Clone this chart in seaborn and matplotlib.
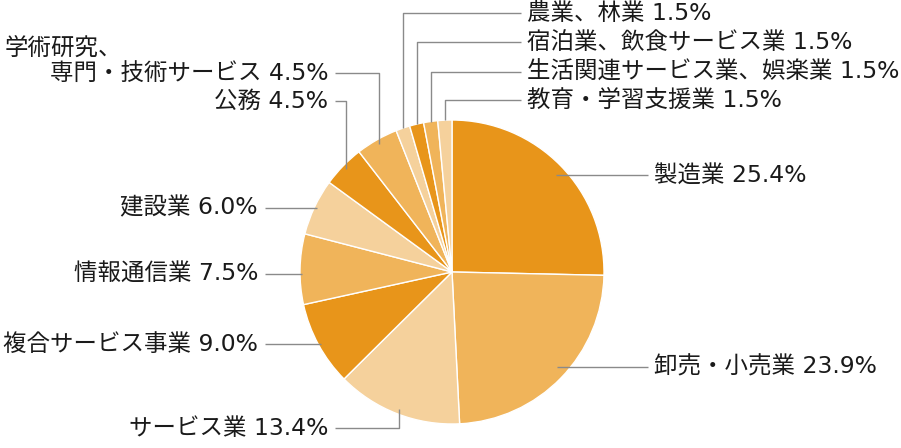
import matplotlib
matplotlib.use('Agg')
import matplotlib.pyplot as plt
import seaborn as sns
import numpy as np

# ---- data ----
categories = ['製造業', '卸売・小売業', 'サービス業', '複合サービス事業', '情報通信業',
              '建設業', '公務', '学術研究、\n専門・技術サービス', '農業、林業',
              '宿泊業、飲食サービス業', '生活関連サービス業、娯楽業', '教育・学習支援業']
values = [25.4, 23.9, 13.4, 9.0, 7.5, 6.0, 4.5, 4.5, 1.5, 1.5, 1.5, 1.5]

# ---- layout (screen pixels, y from top) ----
label_x = [654, 654, 328, 258, 258, 258, 328, 328, 527, 527, 527, 527]
label_y = [175, 367, 428, 344, 274, 208, 101, 73, 13, 42, 72, 100]
label_ha = ['left', 'left', 'right', 'right', 'right', 'right', 'right', 'right',
            'left', 'left', 'left', 'left']
leader_mode = ['h', 'h', 'elbow', 'h', 'h', 'h', 'elbow', 'elbow',
               'elbow', 'elbow', 'elbow', 'elbow']
anchor_r = [0.96, 0.96, 0.97, 0.98, 0.99, 0.98, 0.97, 0.97, 1.0, 1.0, 1.0, 1.0]

dark, mid, light = '#E8951A', '#F0B45A', '#F5D19C'
colors = [dark, mid, light] * 4

sns.set_theme(style='white')
plt.rcParams['font.family'] = ['DejaVu Sans', 'Noto Sans CJK JP']

W, H = 901, 448
fig = plt.figure(figsize=(W / 100, H / 100), dpi=100)
ax = fig.add_axes([0, 0, 1, 1])

cx, cy, R = 452, H - 272, 152
ax.pie(values, colors=colors, startangle=90, counterclock=False,
       center=(cx, cy), radius=R,
       wedgeprops=dict(edgecolor='white', linewidth=1.0))
ax.set_xlim(0, W)
ax.set_ylim(0, H)
ax.set_aspect('equal')
ax.axis('off')

vals = np.array(values)
frac = vals / vals.sum()
cum = np.cumsum(frac)
mids = cum - frac / 2

text_kw = dict(fontsize=16.9, color='#1a1a1a', va='center')
line_kw = dict(color='#8a8a8a', lw=1.0, solid_capstyle='butt')

for i, cat in enumerate(categories):
    th = 2 * np.pi * mids[i]
    ax_x = cx + anchor_r[i] * R * np.sin(th)
    ax_y = cy + anchor_r[i] * R * np.cos(th)
    ty = H - label_y[i]
    tx = label_x[i]
    txt = f'{cat} {values[i]:.1f}%'
    if '\n' in cat:
        first, second = cat.split('\n')
        ax.text(5, H - 48, first, ha='left', **text_kw)
        ax.text(tx, ty, f'{second} {values[i]:.1f}%', ha='right', **text_kw)
    else:
        ax.text(tx, ty, txt, ha=label_ha[i], **text_kw)
    sx = tx - 6 if label_ha[i] == 'left' else tx + 7
    if leader_mode[i] == 'h':
        ax.plot([sx, ax_x], [ty, ty], **line_kw)
    else:
        ax.plot([sx, ax_x, ax_x], [ty, ty, ax_y], **line_kw)

fig.savefig('out.png', dpi=100, facecolor='white')
